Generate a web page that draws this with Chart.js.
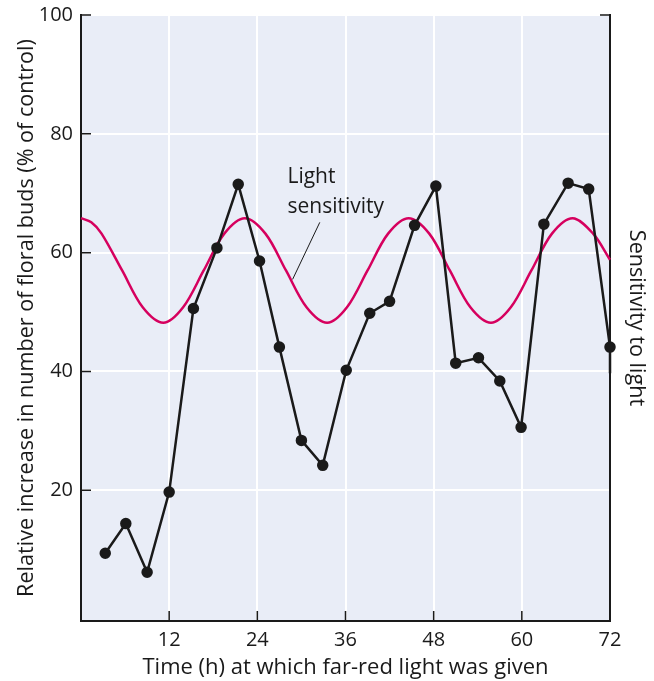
<!DOCTYPE html>
<html lang="en">

<head>
    <meta charset="UTF-8" />
    <title>Floral buds vs far-red light</title>
    <script src="https://cdn.jsdelivr.net/npm/chart.js"></script>
    <style>
        body {
            margin: 0;
            background: #ffffff;
        }
    </style>
</head>

<body>
    <canvas id="budsChart" width="654" height="681"></canvas>

    <script>
        // Floral bud response (black line with dots)
        const hours = [3.3, 6.1, 9.0, 12, 15.3, 18.5, 21.4, 24.3, 27.0, 30.0, 32.9, 36.1, 39.3, 42.0, 45.4, 48.3, 51.0, 54.1, 57.0, 59.9, 63.0, 66.3, 69.1, 72, 72];
        const budIncrease = [9.4, 14.4, 6.2, 19.7, 50.6, 60.8, 71.5, 58.6, 44.1, 28.4, 24.2, 40.2, 49.8, 51.8, 64.6, 71.2, 41.4, 42.3, 38.4, 30.6, 64.8, 71.7, 70.7, 44.1, 39.7];

        // Light sensitivity rhythm (crimson curve)
        const sensHours = [0, 1.4, 2.8, 5.6, 8.4, 11.2, 13.9, 16.7, 19.5, 22.3, 25.1, 27.9, 30.7, 33.5, 36.2, 39.0, 41.8, 44.6, 47.4, 50.2, 53.0, 55.8, 58.5, 61.3, 64.1, 66.9, 69.7, 72];
        const sensitivity = [65.8, 65.1, 63.2, 57.0, 50.8, 48.2, 50.8, 57.0, 63.2, 65.8, 63.2, 57.0, 50.8, 48.2, 50.8, 57.0, 63.2, 65.8, 63.2, 57.0, 50.8, 48.2, 50.8, 57.0, 63.2, 65.8, 63.2, 58.8];

        const xTicks = [12, 24, 36, 48, 60, 72];
        const yTicks = [20, 40, 60, 80, 100];

        const FONT = "'Open Sans', 'Noto Sans', sans-serif";
        const INK = "#1a1a1a";

        // paint the pale blue plot area
        const plotBackground = {
            id: "plotBackground",
            beforeDraw(chart) {
                const { ctx, chartArea: a } = chart;
                ctx.save();
                ctx.fillStyle = "#e9edf7";
                ctx.fillRect(a.left, a.top, a.right - a.left, a.bottom - a.top);
                ctx.restore();
            }
        };

        // inward tick marks + the "Light sensitivity" label
        const extras = {
            id: "extras",
            afterDraw(chart) {
                const { ctx, chartArea: a, scales } = chart;
                ctx.save();
                ctx.strokeStyle = INK;
                ctx.lineWidth = 1.5;
                ctx.beginPath();
                yTicks.forEach(v => {
                    const y = scales.y.getPixelForValue(v);
                    ctx.moveTo(a.left, y);
                    ctx.lineTo(a.left + 10, y);
                });
                xTicks.slice(0, -1).forEach(v => {
                    const x = scales.x.getPixelForValue(v);
                    ctx.moveTo(x, a.bottom);
                    ctx.lineTo(x, a.bottom - 10);
                });
                const yTop = scales.y.getPixelForValue(100);
                ctx.moveTo(a.right - 10, yTop);
                ctx.lineTo(a.right, yTop);
                ctx.stroke();

                // label
                ctx.fillStyle = INK;
                ctx.font = "21px " + FONT;
                ctx.textBaseline = "middle";
                ctx.textAlign = "left";
                const lx = scales.x.getPixelForValue(28.1);
                ctx.fillText("Light", lx, scales.y.getPixelForValue(72.7));
                ctx.fillText("sensitivity", lx, scales.y.getPixelForValue(67.6));

                ctx.lineWidth = 1;
                ctx.beginPath();
                ctx.moveTo(scales.x.getPixelForValue(32.5), scales.y.getPixelForValue(65.1));
                ctx.lineTo(scales.x.getPixelForValue(28.8), scales.y.getPixelForValue(55.5));
                ctx.stroke();
                ctx.restore();
            }
        };

        const budPoints = hours.map((h, i) => ({ x: h, y: budIncrease[i] }));
        const sensPoints = sensHours.map((h, i) => ({ x: h, y: sensitivity[i] }));

        const config = {
            type: "line",
            data: {
                datasets: [
                    {
                        label: "Floral buds",
                        data: budPoints,
                        borderColor: INK,
                        backgroundColor: INK,
                        borderWidth: 2.5,
                        pointRadius: ctx => (ctx.dataIndex === budPoints.length - 1 ? 0 : 4.5),
                        tension: 0,
                        order: 1
                    },
                    {
                        label: "Light sensitivity",
                        data: sensPoints,
                        borderColor: "#d6005e",
                        borderWidth: 2.5,
                        pointRadius: 0,
                        tension: 0.33,
                        order: 2
                    }
                ]
            },
            options: {
                responsive: false,
                animation: false,
                clip: false,
                layout: { padding: { top: 15, left: 0, right: 0, bottom: 0 } },
                plugins: {
                    legend: { display: false },
                    tooltip: { enabled: false }
                },
                scales: {
                    x: {
                        type: "linear",
                        min: 0,
                        max: 72,
                        afterBuildTicks: s => { s.ticks = xTicks.map(v => ({ value: v })); },
                        afterFit: s => { s.height = 60; },
                        grid: {
                            color: c => (c.tick && c.tick.value === 72 ? "rgba(0,0,0,0)" : "#ffffff"),
                            lineWidth: 2,
                            drawTicks: false
                        },
                        border: { color: INK, width: 2 },
                        ticks: {
                            padding: 7,
                            color: INK,
                            font: { family: FONT, size: 20 },
                            maxRotation: 0
                        },
                        title: {
                            display: true,
                            text: "Time (h) at which far-red light was given",
                            color: INK,
                            font: { family: FONT, size: 22 },
                            padding: { top: 0, bottom: 0 }
                        }
                    },
                    y: {
                        type: "linear",
                        min: -2,
                        max: 100,
                        afterBuildTicks: s => { s.ticks = yTicks.map(v => ({ value: v })); },
                        afterFit: s => {
                            s.width = 81;
                            s.paddingTop = 0;
                            s.paddingBottom = 0;
                        },
                        grid: {
                            color: "#ffffff",
                            lineWidth: 2,
                            drawTicks: false
                        },
                        border: { color: INK, width: 2 },
                        ticks: {
                            padding: 8,
                            color: INK,
                            font: { family: FONT, size: 20 }
                        },
                        title: {
                            display: true,
                            text: "Relative increase in number of floral buds (% of control)",
                            color: INK,
                            font: { family: FONT, size: 21.6 },
                            padding: { top: 14, bottom: 0 }
                        }
                    },
                    y2: {
                        type: "linear",
                        position: "right",
                        min: -2,
                        max: 100,
                        afterFit: s => {
                            s.width = 44;
                            s.paddingTop = 0;
                            s.paddingBottom = 0;
                        },
                        grid: { display: false },
                        border: { color: INK, width: 2 },
                        ticks: { display: false },
                        title: {
                            display: true,
                            text: "Sensitivity to light",
                            color: INK,
                            font: { family: FONT, size: 21.6 },
                            padding: { top: 5, bottom: 0 }
                        }
                    }
                }
            },
            plugins: [plotBackground, extras]
        };

        new Chart(document.getElementById("budsChart").getContext("2d"), config);
    </script>
</body>

</html>
